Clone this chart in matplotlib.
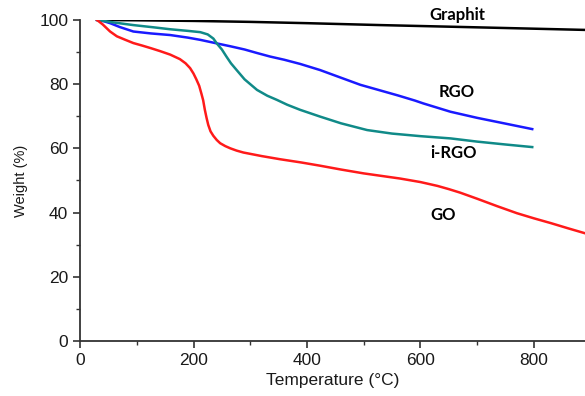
import numpy as np
import matplotlib.pyplot as plt

plt.rcParams['font.family'] = ['Liberation Sans', 'DejaVu Sans']

# values
t_graphit = [30, 100, 200, 300, 400, 530, 700, 890]
w_graphit = [100, 99.9, 99.7, 99.4, 99.0, 98.4, 97.7, 96.9]

t_rgo = [30, 42, 53, 70, 94, 125, 159, 190, 212, 241, 265, 290, 312, 335, 360, 388, 423, 460, 494,
         530, 560, 590, 605, 653, 700, 750, 797]
w_rgo = [100, 99.6, 99.0, 97.8, 96.4, 95.8, 95.3, 94.5, 93.8, 92.7, 91.8, 90.8, 89.7, 88.6, 87.6, 86.3,
         84.4, 82.0, 79.8, 78.0, 76.5, 74.9, 74.0, 71.4, 69.5, 67.7, 66.0]

t_irgo = [30, 45, 60, 94, 130, 159, 190, 212, 225, 235, 241, 250, 258, 266, 276, 290, 312, 330, 347,
          365, 388, 423, 460, 506, 550, 600, 653, 700, 750, 797]
w_irgo = [100, 99.6, 99.2, 98.4, 97.7, 97.1, 96.6, 96.2, 95.5, 94.2, 92.7, 90.8, 88.6, 86.5, 84.4,
          81.5, 78.2, 76.4, 75.1, 73.6, 72.0, 69.9, 67.8, 65.7, 64.6, 63.8, 63.1, 62.1, 61.2, 60.4]

t_go = [30, 40, 53, 65, 80, 94, 110, 125, 141, 159, 176, 186, 194, 200, 205, 210, 214, 217, 220, 223,
        226, 230, 235, 241, 247, 256, 265, 276, 288, 320, 353, 390, 423, 460, 500, 540, 564, 600, 630,
        650, 670, 700, 735, 770, 800, 830, 860, 891]
w_go = [100, 98.6, 96.4, 94.9, 93.8, 92.8, 92.0, 91.2, 90.3, 89.2, 87.8, 86.5, 85.0, 83.3, 81.5, 79.5,
        77.0, 75.0, 72.0, 69.5, 67.3, 65.3, 63.9, 62.6, 61.6, 60.7, 60.0, 59.3, 58.7, 57.6, 56.6, 55.6,
        54.6, 53.4, 52.2, 51.2, 50.6, 49.5, 48.3, 47.3, 46.2, 44.3, 42.0, 39.8, 38.2, 36.7, 35.1, 33.5]

fig = plt.figure(figsize=(5.85, 3.96), dpi=100)
ax = fig.add_axes([0.1368, 0.139, 0.8632, 0.8106])

ax.plot(t_graphit, w_graphit, color='black', lw=1.8)
ax.plot(t_rgo, w_rgo, color='#1a1aff', lw=1.8)
ax.plot(t_irgo, w_irgo, color='#108a88', lw=1.8)
ax.plot(t_go, w_go, color='#ff1a1a', lw=1.8)

ax.set_xlim(0, 890)
ax.set_ylim(0, 100)
ax.set_xticks([0, 200, 400, 600, 800])
ax.set_xticks([100, 300, 500, 700], minor=True)
ax.set_yticks([0, 20, 40, 60, 80, 100])
ax.set_yticks([10, 30, 50, 70, 90], minor=True)

for s in ['top', 'right']:
    ax.spines[s].set_visible(False)
for s in ['left', 'bottom']:
    ax.spines[s].set_color('#333333')
    ax.spines[s].set_linewidth(1.3)

ax.tick_params(which='major', direction='out', length=5, width=1.2, color='#333333',
               labelsize=12.5, labelcolor='#1a1a1a')
ax.tick_params(which='minor', direction='out', length=3, width=1.0, color='#333333')

ax.set_xlabel('Temperature (°C)', fontsize=12.5, color='#1a1a1a', labelpad=4)
ax.set_ylabel('Weight (%)', fontsize=10.5, color='#1a1a1a', labelpad=8)

lab_font = dict(family='Lato', fontweight='bold', fontsize=12, ha='center', va='center', clip_on=False)
ax.text(665, 101.6, 'Graphit', **lab_font)
ax.text(663, 77.6, 'RGO', **lab_font)
ax.text(658, 58.6, 'i-RGO', **lab_font)
ax.text(640, 39.3, 'GO', **lab_font)

fig.savefig('out.png', dpi=100)
